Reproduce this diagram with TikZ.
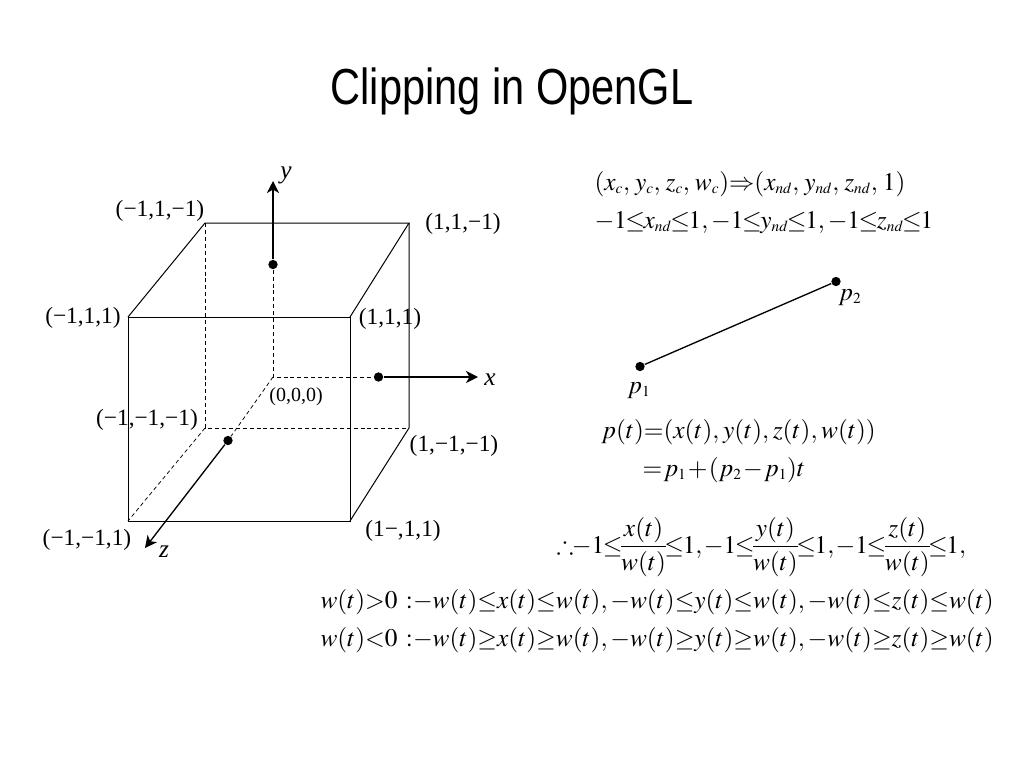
\documentclass[tikz,border=0pt]{standalone}
\usepackage{amsmath}
\usepackage{amssymb}
\usepackage{mathptmx}
\usepackage[no-math]{fontspec}
\setmainfont{Liberation Serif}
\newfontfamily\titlefont[FakeStretch=0.82]{Liberation Sans}
\usetikzlibrary{arrows.meta}
\DeclareMathSizes{19}{19}{11.5}{9}
\newcommand{\tightmath}{\thinmuskip=2mu\medmuskip=0mu\thickmuskip=0mu}
\begin{document}
\begin{tikzpicture}[x=0.75pt,y=-0.75pt,line width=0.75pt]
  \tikzstyle{dot node}=[circle,fill=black,inner sep=0,minimum size=7pt]
  \tikzstyle{lab node}=[inner sep=0,font=\fontsize{17.5}{20}\selectfont]
  \tikzstyle{axis node}=[inner sep=0,font=\fontsize{19}{22}\selectfont\itshape]
  \tikzstyle{eq node}=[inner sep=0,anchor=base west,font=\fontsize{19}{22}\selectfont\tightmath]
  \tikzstyle{axis arrow}=[-{Stealth[length=9pt,width=9pt,inset=2.6pt]},line width=1pt]
  \tikzstyle{hidden}=[dashed,dash pattern=on 3pt off 2.2pt,line width=0.7pt]
  \useasboundingbox (0,0) rectangle (1024,768);
  \node(title)[inner sep=0,font=\titlefont\fontsize{38}{40}\selectfont] at (512,91) {Clipping in OpenGL};
  % cube corners
  \coordinate (ftl) at (128,317);
  \coordinate (ftr) at (350,317);
  \coordinate (fbl) at (128,521);
  \coordinate (fbr) at (350,521);
  \coordinate (btl) at (205,223);
  \coordinate (btr) at (409,223);
  \coordinate (bbl) at (205,428);
  \coordinate (bbr) at (409,428);
  \coordinate (origin) at (273,377);
  \coordinate (ytip) at (273,181);
  \coordinate (xtip) at (478,377);
  \coordinate (ztip) at (145,548);
  \node(ydot)[dot node] at (273,264.5) {};
  \node(xdot)[dot node] at (378.5,377) {};
  \node(zdot)[dot node] at (228,440.5) {};
  \draw (ftl) -- (ftr) -- (fbr) -- (fbl) -- cycle;
  \draw (ftl) -- (btl) -- (btr) -- (ftr);
  \draw (btr) -- (bbr) -- (fbr);
  \draw[hidden] (btl) -- (bbl) -- (bbr);
  \draw[hidden,line width=0.55pt] (bbl) -- (fbl);
  \draw[hidden] (ydot) -- (origin) -- (xdot);
  \draw[hidden,line width=0.55pt] (origin) -- (zdot);
  \draw[axis arrow] (ydot) -- (ytip);
  \draw[axis arrow] (xdot) -- (xtip);
  \draw[axis arrow] (zdot) -- (ztip);
  \node(ylab)[axis node] at (286,175) {y};
  \node(xlab)[axis node] at (490,380) {x};
  \node(zlab)[axis node] at (164,552) {z};
  \node(lbtl)[lab node] at (160,211) {(−1,1,−1)};
  \node(lbtr)[lab node] at (463,224) {(1,1,−1)};
  \node(lftl)[lab node] at (83,318) {(−1,1,1)};
  \node(lftr)[lab node] at (390,319) {(1,1,1)};
  \node(lbbl)[lab node] at (147,420) {(−1,−1,−1)};
  \node(lbbr)[lab node] at (454,446) {(1,−1,−1)};
  \node(lfbl)[lab node] at (87,540) {(−1,−1,1)};
  \node(lfbr)[lab node] at (403,531) {(1−,1,1)};
  \node(lorig)[inner sep=0,font=\fontsize{15}{18}\selectfont] at (296,397) {(0,0,0)};
  % line segment
  \node(p1)[dot node] at (640,366.5) {};
  \node(p2)[dot node] at (836,281.5) {};
  \draw[line width=1pt] (p1) -- (p2);
  \node(lp1)[eq node] at (627,393) {$p_1$};
  \node(lp2)[eq node] at (838,300) {$p_2$};
  % equations
  \node(eqa)[eq node] at (594,190) {\thinmuskip=3.5mu$(x_c,y_c,z_c,w_c)\Rightarrow(x_{nd},y_{nd},z_{nd},1)$};
  \node(eqb)[eq node] at (594,228) {\thickmuskip=-1mu$-1\le x_{nd}\le1,-1\le y_{nd}\le1,-1\le z_{nd}\le1$};
  \node(eqc)[eq node] at (601,438) {\thinmuskip=2.6mu$p(t)=(x(t),y(t),z(t),w(t))$};
  \node(eqd)[eq node] at (642,476) {\thickmuskip=1mu\medmuskip=1mu$=p_1+(p_2-p_1)t$};
  \node(eqe)[eq node,anchor=west] at (556,547) {\thickmuskip=-1mu\thinmuskip=1mu\nulldelimiterspace=0pt$\therefore-1\le\dfrac{x(t)}{w(t)}\le1,-1\le\dfrac{y(t)}{w(t)}\le1,-1\le\dfrac{z(t)}{w(t)}\le1,$};
  \node(eqf)[eq node] at (320,608) {$w(t)>0\mskip6mu:-w(t)\le x(t)\le w(t),-w(t)\le y(t)\le w(t),-w(t)\le z(t)\le w(t)$};
  \node(eqg)[eq node] at (320,646) {$w(t)<0\mskip6mu:-w(t)\ge x(t)\ge w(t),-w(t)\ge y(t)\ge w(t),-w(t)\ge z(t)\ge w(t)$};
\end{tikzpicture}
\end{document}
